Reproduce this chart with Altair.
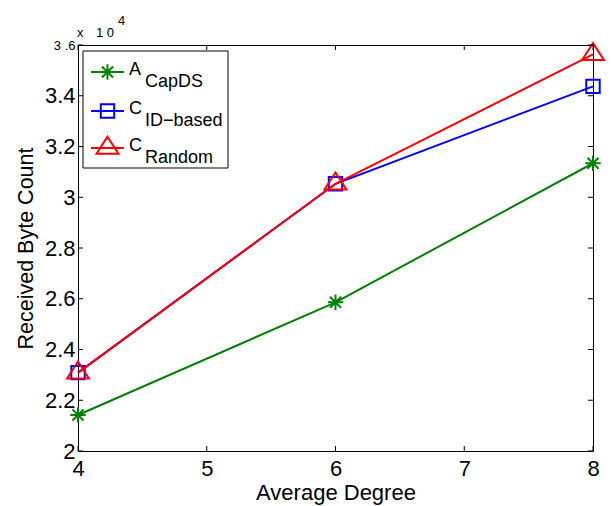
import altair as alt
import pandas as pd

# data (values in units of 10^4 bytes)
degrees = [4, 6, 8]
series_names = ["A_CapDS", "C_ID-based", "C_Random"]
capds = [2.142, 2.586, 3.134]
id_based = [2.309, 3.053, 3.437]
random_ = [2.308, 3.053, 3.563]
x_ticks = [4, 5, 6, 7, 8]
y_ticks = [2.0, 2.2, 2.4, 2.6, 2.8, 3.0, 3.2, 3.4, 3.6]
legend_main = ["A", "C", "C"]
legend_sub = ["CapDS", "ID\u2212based", "Random"]

colors = ["#008000", "#0000ff", "#ff0000"]
asterisk = "M0,-1L0,1M-1,0L1,0M-0.72,-0.72L0.72,0.72M-0.72,0.72L0.72,-0.72"
triangle = "M0,-1L0.97,0.5L-0.97,0.5Z"
shapes = [asterisk, "square", triangle]
sizes = [240, 180, 511]

W, H = 515, 406
FONT = "Liberation Sans"

values = [capds, id_based, random_]
df = pd.DataFrame(
    [{"series": s, "degree": d, "bytes": v}
     for s, vals in zip(series_names, values) for d, v in zip(degrees, vals)]
)

xscale = alt.Scale(domain=[4, 8], nice=False, zero=False)
yscale = alt.Scale(domain=[2, 3.6], nice=False, zero=False)

xaxis = alt.Axis(values=x_ticks, ticks=False, tickSize=0, domain=False, grid=False,
                 labelFontSize=22, labelPadding=7, labelColor="black",
                 title="Average Degree", titleFontSize=22, titleFontWeight="normal",
                 titlePadding=3, titleColor="black", labelFlush=False)
yaxis = alt.Axis(values=y_ticks, ticks=False, tickSize=0, domain=False, grid=False,
                 labelFontSize={"condition": {"test": "datum.value >= 3.59", "value": 13}, "value": 22},
                 labelExpr="datum.value >= 3.59 ? '3 .6' : format(datum.value, '~g')",
                 labelPadding=3, labelColor="black",
                 title="Received Byte Count", titleFontSize=21.5, titleFontWeight="normal",
                 titlePadding=7, titleColor="black")

X = lambda f: alt.X(f, scale=xscale, axis=xaxis)
Y = lambda f: alt.Y(f, scale=yscale, axis=yaxis)

layers = []
for i, s in enumerate(series_names):
    sub = df[df.series == s]
    base = alt.Chart(sub).encode(x=X("degree:Q"), y=Y("bytes:Q"))
    layers.append(base.mark_line(color=colors[i], strokeWidth=2))
    layers.append(base.mark_point(shape=shapes[i], size=sizes[i], filled=False,
                                  color=colors[i], strokeWidth=2, opacity=1))

# inward ticks on all four sides
yt = pd.DataFrame({"degree": [4] * len(y_ticks), "bytes": y_ticks})
xt = pd.DataFrame({"degree": x_ticks, "bytes": [2] * len(x_ticks)})
layers.append(alt.Chart(yt).mark_rule(color="black", strokeWidth=1).encode(
    y=Y("bytes:Q"), x=alt.value(0), x2=alt.value(5)))
layers.append(alt.Chart(yt).mark_rule(color="black", strokeWidth=1).encode(
    y=Y("bytes:Q"), x=alt.value(W - 5), x2=alt.value(W)))
layers.append(alt.Chart(xt).mark_rule(color="black", strokeWidth=1).encode(
    x=X("degree:Q"), y=alt.value(H), y2=alt.value(H - 5)))
layers.append(alt.Chart(xt).mark_rule(color="black", strokeWidth=1).encode(
    x=X("degree:Q"), y=alt.value(0), y2=alt.value(5)))

# exponent label
one = pd.DataFrame({"k": [0]})
for txt, px, py in [("x", -1, -8), ("1 0", 18, -8), ("4", 40, -20)]:
    layers.append(alt.Chart(one).mark_text(text=txt, fontSize=13, align="left",
                                           baseline="alphabetic", font=FONT, color="black").encode(
        x=alt.value(px), y=alt.value(py)))

# legend
layers.append(alt.Chart(one).mark_rect(fill="white", stroke="black", strokeWidth=1).encode(
    x=alt.value(5), x2=alt.value(150), y=alt.value(6), y2=alt.value(123)))
rows = [27, 66, 103]
for i in range(3):
    ry = rows[i]
    layers.append(alt.Chart(one).mark_rule(color=colors[i], strokeWidth=2).encode(
        x=alt.value(13), x2=alt.value(46), y=alt.value(ry)))
    layers.append(alt.Chart(one).mark_point(shape=shapes[i], size=sizes[i], filled=False,
                                            color=colors[i], strokeWidth=2, opacity=1).encode(
        x=alt.value(29.5), y=alt.value(ry)))
    layers.append(alt.Chart(one).mark_text(text=legend_main[i], fontSize=18, align="left",
                                           baseline="alphabetic", font=FONT, color="black").encode(
        x=alt.value(51), y=alt.value(ry + 3)))
    layers.append(alt.Chart(one).mark_text(text=legend_sub[i], fontSize=18, align="left",
                                           baseline="alphabetic", font=FONT, color="black").encode(
        x=alt.value(67), y=alt.value(ry + 15)))

chart = alt.layer(*layers).properties(
    width=W, height=H,
    autosize=alt.AutoSizeParams(type="none"),
    padding={"left": 78, "top": 45, "right": 19, "bottom": 55},
    background="white",
).configure(font=FONT).configure_view(stroke="black", strokeWidth=1)

chart.save("out.html", embed_options={"renderer": "svg", "actions": False})
